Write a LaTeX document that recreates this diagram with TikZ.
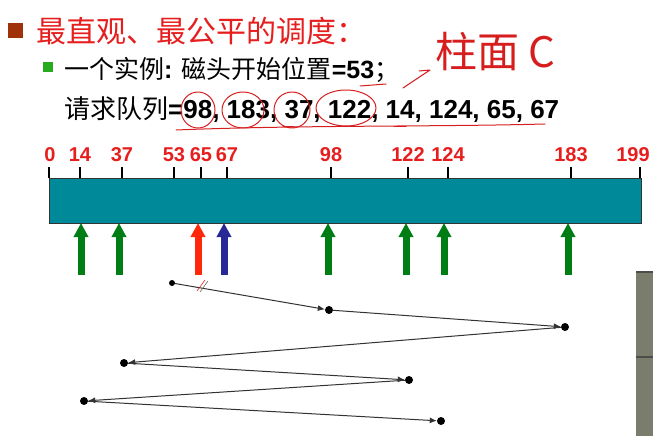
\documentclass[tikz,border=0pt]{standalone}
\usepackage{fontspec}
\setmainfont{Liberation Sans}
\newfontfamily\cjk{Noto Sans CJK SC}
\usetikzlibrary{arrows.meta}

\definecolor{titlered}{RGB}{230,30,30}
\definecolor{bulletbrown}{RGB}{160,50,10}
\definecolor{bulletgreen}{RGB}{40,170,30}
\definecolor{barteal}{RGB}{0,137,153}
\definecolor{armgreen}{RGB}{0,125,20}
\definecolor{armred}{RGB}{255,40,10}
\definecolor{armblue}{RGB}{40,40,150}
\definecolor{inkred}{RGB}{215,30,30}
\definecolor{panelgray}{RGB}{122,125,108}

\tikzset{
  tickmark/.style={line width=2pt, black},
  cyllabel/.style={text=titlered, font=\fontsize{20}{20}\selectfont\bfseries, inner sep=0},
  headarrow/.style={line width=7pt, -{Triangle[width=14pt,length=14pt]}},
  headstop/.style={circle, fill=black, inner sep=0, minimum size=8pt},
  seek/.style={line width=1pt, black!80, -{Latex[length=7pt,width=6pt]}},
  ink/.style={inkred, line width=1pt, line cap=round, line join=round},
}

\begin{document}
\begin{tikzpicture}[x=1pt, y=-1pt]
    \useasboundingbox (0,0) rectangle (653,436);
    % Titel
    \node[fill=bulletbrown, minimum size=15pt, inner sep=0] (b1) at (15,31) {};
    \node[anchor=west, inner sep=0, text=titlered, font=\fontsize{30}{30}\selectfont\cjk] (title) at (36,31) {最直观、最公平的调度：};
    % Beispiel
    \node[fill=bulletgreen, minimum size=10pt, inner sep=0] (b2) at (48,67) {};
    \node[anchor=west, inner sep=0, font=\fontsize{25}{25}\selectfont] (start) at (64,70)
      {{\cjk 一个实例}\textbf{:} {\cjk 磁头开始位置}\textbf{=53}{\cjk ；}};
    \node[anchor=west, inner sep=0, font=\fontsize{26}{26}\selectfont] (queue) at (64,110)
      {{\cjk 请求队列}\textbf{=98, 183, 37, 122, 14, 124, 65, 67}};
    % Zylinderleiste
    \node[draw=black!80, fill=barteal, minimum width=592pt, minimum height=45pt, anchor=north west, inner sep=0] (bar) at (48.5,178) {};
    \foreach \v/\x/\lx in {0/49/50,14/80/80,37/122/122,53/174/174,65/201/201,67/227/227,98/331/331,122/408/408,124/448/448,183/571/571,199/640/633} {
      \coordinate (t\v) at (\x,178);
      \draw[tickmark] (t\v) -- ++(0,-11);
      \node[cyllabel] (l\v) at (\lx,155) {\v};
    }
    % Anfragen
    \foreach \x/\c in {81/armgreen,119/armgreen,198/armred,224/armblue,328/armgreen,406/armgreen,444/armgreen,568/armgreen} {
      \draw[headarrow, \c] (\x,275) -- (\x,223);
    }
    % Kopfbewegung
    \node[headstop, minimum size=6pt] (p53) at (172,283) {};
    \node[headstop] (p98) at (329,310) {};
    \node[headstop] (p183) at (565,327) {};
    \node[headstop] (p37) at (124,363) {};
    \node[headstop] (p122) at (409,380) {};
    \node[headstop] (p14) at (84,401) {};
    \node[headstop] (p124) at (441,421) {};
    \draw[seek] (p53) -- (p98);
    \draw[seek] (p98) -- (p183);
    \draw[seek] (p183) -- (p37);
    \draw[seek] (p37) -- (p122);
    \draw[seek] (p122) -- (p14);
    \draw[seek] (p14) -- (p124);
    % Handschrift
    \node[anchor=west, inner sep=0, text=inkred, font=\fontsize{42}{42}\selectfont\cjk] (note) at (435,52) {柱面 C};
    \draw[ink] (403,88) -- (430,70) -- (419,71);
    \draw[ink] (360,86) -- (386,84);
    \draw[ink] (198,110) ellipse [x radius=17, y radius=18];
    \draw[ink] (243,110) ellipse [x radius=21, y radius=18];
    \draw[ink] (292,110) ellipse [x radius=18, y radius=18];
    \draw[ink] (346,108) ellipse [x radius=30, y radius=18];
    \draw[ink] (283,126) -- (294,126);
    \draw[ink] (394,126) -- (406,126);
    \draw[ink] (176,130) .. controls (300,125) and (430,127) .. (545,124);
    \draw[ink, line width=0.6pt] (197,291) -- (205,280);
    \draw[black!60, line width=0.6pt] (200,292) -- (208,281);
    % Bildschirmrand
    \fill[panelgray] (636,271) rectangle (653,436);
    \draw[black!70, line width=1.5pt] (636,272) -- (653,272);
    \draw[black!70, line width=1.5pt] (636,357) -- (653,357);
\end{tikzpicture}
\end{document}
